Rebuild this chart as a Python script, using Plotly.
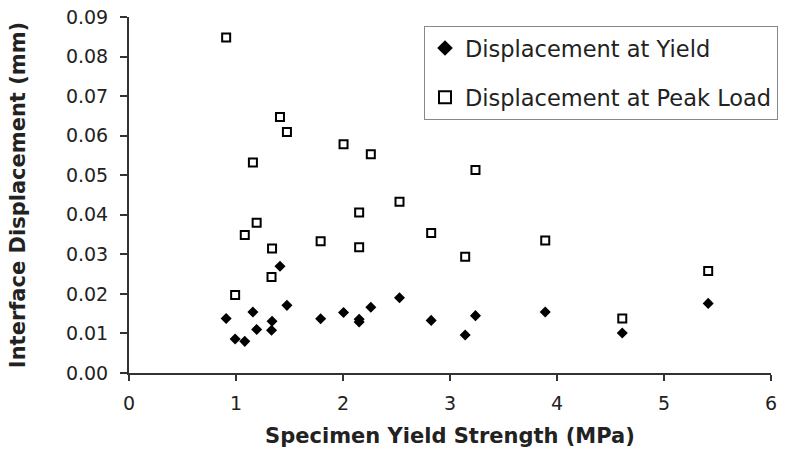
import plotly.graph_objects as go

# Specimen yield strength (MPa)
yield_strength = [0.908, 0.992, 1.082, 1.158, 1.193, 1.337, 1.332, 1.411, 1.476, 1.791,
                  2.005, 2.151, 2.151, 2.260, 2.528, 2.824, 3.142, 3.238, 3.890, 4.610, 5.413]
# Displacement at yield (mm)
disp_yield = [0.0138, 0.0086, 0.0080, 0.0154, 0.0110, 0.0131, 0.0108, 0.0270, 0.0171, 0.0137,
              0.0153, 0.0136, 0.0129, 0.0166, 0.0190, 0.0133, 0.0096, 0.0145, 0.0154, 0.0101, 0.0176]
# Displacement at peak load (mm)
disp_peak = [0.0848, 0.0197, 0.0349, 0.0532, 0.0380, 0.0315, 0.0243, 0.0647, 0.0609, 0.0333,
             0.0578, 0.0406, 0.0318, 0.0553, 0.0433, 0.0354, 0.0294, 0.0513, 0.0335, 0.0138, 0.0258]

FONT = "DejaVu Sans"
INK = "#222222"

fig = go.Figure()
fig.add_trace(go.Scatter(
    x=yield_strength, y=disp_yield, mode="markers", name="Displacement at Yield",
    legendgroup="a",
    marker=dict(symbol="diamond", size=8.5, color="black", line=dict(width=0)),
))
fig.add_trace(go.Scatter(
    x=yield_strength, y=disp_peak, mode="markers", name="Displacement at Peak Load",
    legendgroup="b",
    marker=dict(symbol="square-open", size=8, color="black", line=dict(width=2, color="black")),
))

fig.update_layout(
    width=800, height=455,
    margin=dict(l=129, r=29, t=17, b=82, autoexpand=False),
    paper_bgcolor="white", plot_bgcolor="white",
    font=dict(family=FONT, size=19, color=INK),
    showlegend=True,
    legend=dict(
        x=0.4595, y=0.975, xanchor="left", yanchor="top",
        bordercolor="#888888", borderwidth=1, bgcolor="white",
        font=dict(family=FONT, size=22.5, color=INK),
        tracegroupgap=17, itemsizing="constant",
    ),
    xaxis=dict(
        range=[0, 6], dtick=1, tick0=0, showgrid=False, zeroline=False,
        showline=True, linecolor="#333333", linewidth=2, automargin=False,
        ticks="outside", ticklen=6, tickwidth=2, tickcolor="#333333",
        ticklabelstandoff=6,
        tickfont=dict(family=FONT, size=19, color=INK),
        title=dict(text="<b>Specimen Yield Strength (MPa)</b>",
                   font=dict(family=FONT, size=21, color=INK), standoff=16),
    ),
    yaxis=dict(
        range=[0, 0.09], dtick=0.01, tick0=0, tickformat=".2f", showgrid=False, zeroline=False,
        showline=True, linecolor="#333333", linewidth=2, automargin=False,
        ticks="outside", ticklen=7, tickwidth=2, tickcolor="#333333",
        ticklabelstandoff=8,
        tickfont=dict(family=FONT, size=19, color=INK),
        title=dict(text="<b>Interface Displacement (mm)</b>",
                   font=dict(family=FONT, size=21, color=INK), standoff=35),
    ),
)

fig.write_html("out.html", config={"displayModeBar": False},
               post_script="document.body.style.margin='0';")
